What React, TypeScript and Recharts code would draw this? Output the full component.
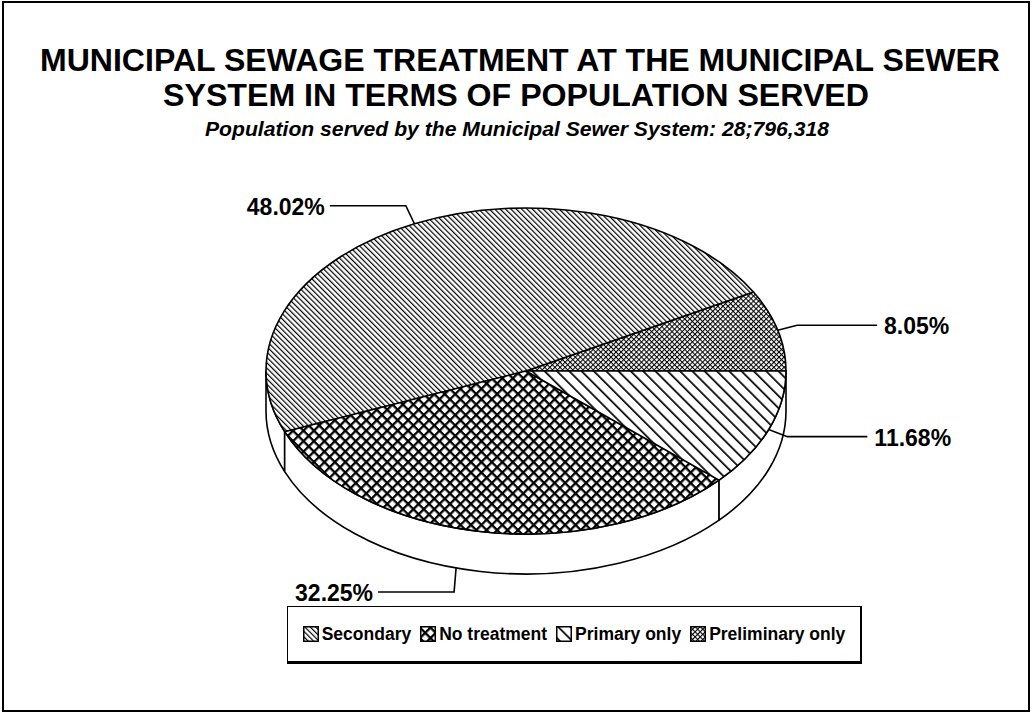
import React from 'react';
import { PieChart, Pie, Cell, Legend } from 'recharts';

// slices in drawing order, counter-clockwise from 3 o'clock
const SLICE_NAMES = ['Preliminary only', 'Secondary', 'No treatment', 'Primary only'];
const SLICE_SHARES = [8.05, 48.02, 32.25, 11.68];
const LEGEND_ORDER = ['Secondary', 'No treatment', 'Primary only', 'Preliminary only'];

const TITLE_LINES = [
  'MUNICIPAL SEWAGE TREATMENT AT THE MUNICIPAL SEWER',
  'SYSTEM IN TERMS OF POPULATION SERVED',
];
const SUBTITLE = 'Population served by the Municipal Sewer System: 28;796,318';

const PATTERN_IDS: Record<string, string> = {
  Secondary: 'hatch-secondary',
  'No treatment': 'hatch-none',
  'Primary only': 'hatch-primary',
  'Preliminary only': 'hatch-prelim',
};

const data = SLICE_NAMES.map((name, i) => ({ name, value: SLICE_SHARES[i] }));

const FONT = '"Liberation Sans", Arial, Helvetica, sans-serif';
const TILT = 163 / 260; // vertical squash of the pie top
const DEPTH = 40; // height of the pie wall
const FRONT_LABEL_SHIFT = -5.5; // the old chart put the front leader a bit left of the slice middle
const RAD = Math.PI / 180;

function pt(cx: number, cy: number, rx: number, ry: number, deg: number): [number, number] {
  const a = -deg * RAD;
  return [cx + rx * Math.cos(a), cy + ry * Math.sin(a)];
}

// draws a recharts sector as a slice of a tilted (elliptical) pie with a front wall
function TiltedSector(props: any) {
  const { cx, cy, outerRadius, startAngle, endAngle, fill } = props;
  const s = Math.min(startAngle, endAngle);
  const e = Math.max(startAngle, endAngle);
  const rx = outerRadius;
  const ry = outerRadius * TILT;
  const [x1, y1] = pt(cx, cy, rx, ry, s);
  const [x2, y2] = pt(cx, cy, rx, ry, e);
  const large = e - s > 180 ? 1 : 0;
  const face = `M${cx},${cy} L${x1},${y1} A${rx},${ry} 0 ${large} 0 ${x2},${y2} Z`;

  let wall: string | null = null;
  const a1 = Math.max(s, 180);
  const a2 = Math.min(e, 360);
  if (a2 > a1) {
    const [wx1, wy1] = pt(cx, cy, rx, ry, a1);
    const [wx2, wy2] = pt(cx, cy, rx, ry, a2);
    const wl = a2 - a1 > 180 ? 1 : 0;
    wall =
      `M${wx1},${wy1} A${rx},${ry} 0 ${wl} 0 ${wx2},${wy2} ` +
      `L${wx2},${wy2 + DEPTH} A${rx},${ry} 0 ${wl} 1 ${wx1},${wy1 + DEPTH} Z`;
  }
  return (
    <g>
      {wall && <path d={wall} fill="#fff" stroke="#000" strokeWidth={1.6} strokeLinejoin="round" />}
      <path d={face} fill={fill} stroke="#000" strokeWidth={1.6} strokeLinejoin="round" />
    </g>
  );
}

function LeaderLabel(props: any) {
  const { cx, cy, midAngle, outerRadius, value } = props;
  const rx = outerRadius;
  const ry = outerRadius * TILT;
  const front = Math.sin(-midAngle * RAD) > 0.6;
  const ang = front ? midAngle + FRONT_LABEL_SHIFT : midAngle;
  let [ax, ay] = pt(cx, cy, rx, ry, ang);
  let [ex, ey] = pt(cx, cy, rx + 20, ry + 20, ang);
  if (front) {
    ay += DEPTH;
    ex = ax - 2;
    ey = ay + 24;
  }
  const right = ex > cx;
  const hx = right ? ex + 80 : ex - 76;
  return (
    <g>
      <polyline
        points={`${ax},${ay} ${ex},${ey} ${hx},${ey}`}
        fill="none"
        stroke="#000"
        strokeWidth={1.6}
      />
      <text
        x={right ? hx + 7 : hx - 5}
        y={ey + 1}
        textAnchor={right ? 'start' : 'end'}
        dominantBaseline="central"
        fontFamily={FONT}
        fontWeight={700}
        fontSize={23}
        fill="#000"
      >
        {`${Number(value).toFixed(2)}%`}
      </text>
    </g>
  );
}

function Swatch({ name }: { name: string }) {
  return (
    <svg width={16} height={16} style={{ display: 'block' }}>
      <rect x={0.75} y={0.75} width={14.5} height={14.5} fill={`url(#${PATTERN_IDS[name]})`} stroke="#000" strokeWidth={1.5} />
    </svg>
  );
}

function PatternLegend(props: any) {
  const names: string[] = (props.payload || []).map((p: any) => p.value);
  const ordered = LEGEND_ORDER.filter((n) => names.length === 0 || names.includes(n));
  return (
    <div
      style={{
        display: 'flex',
        justifyContent: 'center',
        alignItems: 'center',
        height: '100%',
        gap: 9,
        fontFamily: FONT,
        fontWeight: 700,
        fontSize: 17.5,
        color: '#000',
      }}
    >
      {ordered.map((n) => (
        <div key={n} style={{ display: 'flex', alignItems: 'center', gap: 3 }}>
          <Swatch name={n} />
          <span>{n}</span>
        </div>
      ))}
    </div>
  );
}

function PatternDefs() {
  return (
    <defs>
      <pattern id="hatch-secondary" patternUnits="userSpaceOnUse" width={3.8} height={3.8} patternTransform="rotate(-45)">
        <rect width={3.8} height={3.8} fill="#fff" />
        <line x1={0} y1={0} x2={0} y2={3.8} stroke="#000" strokeWidth={2.4} />
      </pattern>
      <pattern id="hatch-primary" patternUnits="userSpaceOnUse" width={8.7} height={8.7} patternTransform="rotate(-45)">
        <rect width={8.7} height={8.7} fill="#fff" />
        <line x1={0} y1={0} x2={0} y2={8.7} stroke="#000" strokeWidth={3.4} />
      </pattern>
      <pattern id="hatch-none" patternUnits="userSpaceOnUse" width={7.4} height={7.4} patternTransform="rotate(45)">
        <rect width={7.4} height={7.4} fill="#fff" />
        <line x1={0} y1={0} x2={0} y2={7.4} stroke="#000" strokeWidth={4.6} />
        <line x1={0} y1={0} x2={7.4} y2={0} stroke="#000" strokeWidth={4.6} />
      </pattern>
      <pattern id="hatch-prelim" patternUnits="userSpaceOnUse" width={3.6} height={3.6} patternTransform="rotate(45)">
        <rect width={3.6} height={3.6} fill="#fff" />
        <line x1={0} y1={0} x2={0} y2={3.6} stroke="#000" strokeWidth={2.1} />
        <line x1={0} y1={0} x2={3.6} y2={0} stroke="#000" strokeWidth={2.1} />
      </pattern>
    </defs>
  );
}

export default function App() {
  return (
    <div style={{ position: 'relative', width: 1032, height: 714, background: '#fff' }}>
      <style>{'body{margin:0;background:#fff}'}</style>
      <div
        style={{
          position: 'absolute',
          left: 2,
          top: 1,
          width: 1028,
          height: 711,
          border: '2px solid #000',
          boxSizing: 'border-box',
        }}
      />
      <svg width={1032} height={714} style={{ position: 'absolute', left: 0, top: 0, pointerEvents: 'none' }}>
        <PatternDefs />
        <text x={520} y={71} textAnchor="middle" fontFamily={FONT} fontWeight={700} fontSize={32}
          textLength={960} lengthAdjust="spacingAndGlyphs">{TITLE_LINES[0]}</text>
        <text x={516} y={106} textAnchor="middle" fontFamily={FONT} fontWeight={700} fontSize={32}
          textLength={706} lengthAdjust="spacingAndGlyphs">{TITLE_LINES[1]}</text>
        <text x={517} y={136} textAnchor="middle" fontFamily={FONT} fontWeight={700} fontStyle="italic"
          fontSize={21} textLength={624} lengthAdjust="spacingAndGlyphs">{SUBTITLE}</text>
      </svg>
      <div style={{ position: 'absolute', left: 0, top: 0 }}>
        <PieChart width={1032} height={714} margin={{ top: 0, right: 0, bottom: 0, left: 0 }}>
          <Pie
            data={data}
            dataKey="value"
            nameKey="name"
            cx={526}
            cy={371}
            outerRadius={260}
            startAngle={0}
            endAngle={360}
            shape={TiltedSector}
            label={LeaderLabel}
            labelLine={false}
            isAnimationActive={false}
          >
            {data.map((d) => (
              <Cell key={d.name} fill={`url(#${PATTERN_IDS[d.name]})`} />
            ))}
          </Pie>
          <Legend
            content={PatternLegend}
            wrapperStyle={{
              position: 'absolute',
              left: 287,
              top: 606,
              width: 575,
              height: 58,
              border: '1.5px solid #000',
              borderBottomWidth: 3,
              borderRightWidth: 2.5,
              boxSizing: 'border-box',
              background: '#fff',
            }}
          />
        </PieChart>
      </div>
    </div>
  );
}
